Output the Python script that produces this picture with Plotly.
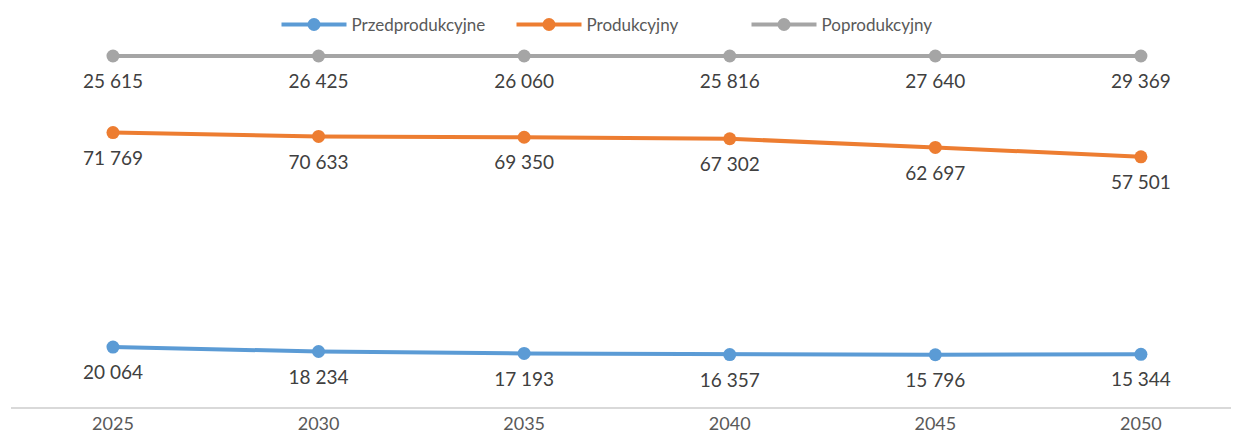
import plotly.graph_objects as go

years = [2025, 2030, 2035, 2040, 2045, 2050]
przedprodukcyjne = [20064, 18234, 17193, 16357, 15796, 15344]
produkcyjny = [71769, 70633, 69350, 67302, 62697, 57501]
poprodukcyjny = [25615, 26425, 26060, 25816, 27640, 29369]

series = [
    ("Przedprodukcyjne", przedprodukcyjne, "#5B9BD5"),
    ("Produkcyjny", produkcyjny, "#ED7D31"),
    ("Poprodukcyjny", poprodukcyjny, "#A5A5A5"),
]

def fmt(v):
    return f"{v:,}".replace(",", " ")

fig = go.Figure()
# visible lines + markers (100% stacked)
for i, (name, vals, color) in enumerate(series):
    kw = dict(groupnorm="percent") if i == 0 else {}
    fig.add_trace(go.Scatter(
        x=years, y=vals, name=name, legendgroup=name,
        stackgroup="lines", fill="none", **kw,
        mode="lines+markers",
        line=dict(color=color, width=4),
        marker=dict(color=color, size=13),
        hoverinfo="x+name",
    ))
# data labels (same stacking, transparent big markers to offset text)
for i, (name, vals, color) in enumerate(series):
    kw = dict(groupnorm="percent") if i == 0 else {}
    fig.add_trace(go.Scatter(
        x=years, y=vals, name=name, legendgroup=name, showlegend=False,
        stackgroup="labels", fill="none", **kw,
        mode="markers+text",
        marker=dict(color="rgba(0,0,0,0)", size=27),
        text=[fmt(v) for v in vals],
        textposition="bottom center",
        textfont=dict(family="Lato, Open Sans, sans-serif", size=19, color="#404040"),
        cliponaxis=False,
        hoverinfo="skip",
    ))

fig.update_layout(
    width=1239, height=434,
    margin=dict(l=3, r=0, t=40, b=35, autoexpand=False),
    paper_bgcolor="white", plot_bgcolor="white",
    font=dict(family="Lato, Open Sans, sans-serif", color="#595959"),
    showlegend=True,
    legend=dict(orientation="h", x=0.5, xanchor="center", yref="container", y=0.961, yanchor="middle",
                font=dict(size=17, color="#595959"), traceorder="normal",
                itemwidth=65, entrywidth=155),
    xaxis=dict(range=[2022.52, 2052.58], tickvals=years, ticktext=[str(y) for y in years],
               showgrid=False, zeroline=False, showline=True, linecolor="#D9D9D9", linewidth=1.5,
               ticks="", tickfont=dict(size=18, color="#595959")),
    yaxis=dict(range=[0, 102.28], visible=False, showgrid=False, zeroline=False),
)

fig.write_html("out.html")
